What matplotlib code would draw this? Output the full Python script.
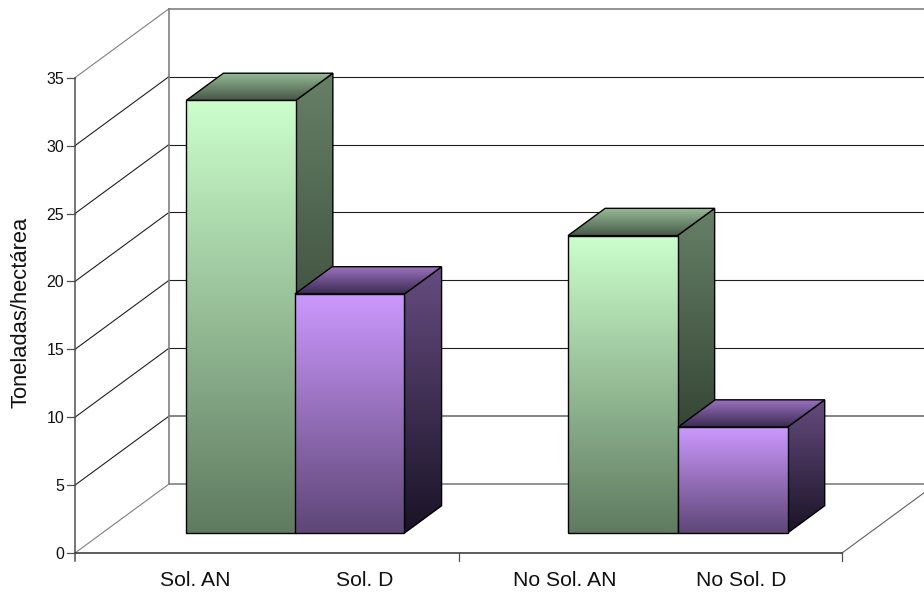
import matplotlib
matplotlib.use("Agg")
import matplotlib.pyplot as plt
import numpy as np
from matplotlib.colors import LinearSegmentedColormap
from matplotlib.patches import Polygon

OUT = "out.png"

# values in toneladas/hectarea
categories = ["Sol. AN", "Sol. D", "No Sol. AN", "No Sol. D"]
values = [31.85, 17.6, 21.9, 7.8]
label_x = [195, 365, 565, 741]
bar_slot = [0.219, 0.5025, 1.2145, 1.5015]
y_ticks = [0, 5, 10, 15, 20, 25, 30, 35]

# pseudo-3d layout, all in pixels
X0, Y0 = 75, 553
SLOT_W = 383.5
PX_PER_UNIT = 13.58
DEPTH_X, DEPTH_Y = 94, -69
BAR_W = 0.2855
BAR_D0, BAR_D1 = 0.29, 0.685

# front / side / top gradient ends
GREEN = {"front": ("#CCFFCC", "#5F7A60"), "side": ("#668066", "#1F2A1F"),
         "top": ("#99BD99", "#465846")}
PURPLE = {"front": ("#CC99FF", "#5E4676"), "side": ("#664C80", "#1A1326"),
          "top": ("#9E74C2", "#3A2A50")}
bar_styles = [GREEN, PURPLE, GREEN, PURPLE]


def project(slot, value, depth):
    """Map (category slot, value, depth 0..1) to pixel coordinates."""
    x = X0 + slot * SLOT_W + depth * DEPTH_X
    y = Y0 - value * PX_PER_UNIT + depth * DEPTH_Y
    return x, y


def gradient_face(ax, corners, colors, zorder):
    pts = np.array(corners)
    cmap = LinearSegmentedColormap.from_list("face", colors)
    grad = np.linspace(0, 1, 256).reshape(-1, 1)
    im = ax.imshow(grad, cmap=cmap, aspect="auto", zorder=zorder,
                   extent=[pts[:, 0].min(), pts[:, 0].max(),
                           pts[:, 1].max(), pts[:, 1].min()],
                   interpolation="bilinear")
    poly = Polygon(pts, closed=True, facecolor="none", edgecolor="black",
                   lw=1.0, joinstyle="miter", zorder=zorder + 0.1)
    ax.add_patch(poly)
    im.set_clip_path(poly)


def draw_bar(ax, slot, value, style, zorder):
    x0, x1 = slot, slot + BAR_W
    front = [project(x0, 0, BAR_D0), project(x1, 0, BAR_D0),
             project(x1, value, BAR_D0), project(x0, value, BAR_D0)]
    side = [project(x1, 0, BAR_D0), project(x1, 0, BAR_D1),
            project(x1, value, BAR_D1), project(x1, value, BAR_D0)]
    top = [project(x0, value, BAR_D0), project(x1, value, BAR_D0),
           project(x1, value, BAR_D1), project(x0, value, BAR_D1)]
    gradient_face(ax, side, style["side"], zorder)
    gradient_face(ax, top, style["top"], zorder + 1)
    gradient_face(ax, front, style["front"], zorder + 2)


plt.rcParams["font.family"] = ["Liberation Sans", "DejaVu Sans"]
fig = plt.figure(figsize=(9.24, 5.92), dpi=100)
ax = fig.add_axes([0, 0, 1, 1])

# walls and gridlines
back_x, _ = project(0, 0, 1)
for v in y_ticks:
    fx, fy = project(0, v, 0)
    bx, by = project(0, v, 1)
    edge = v in (0, 35)
    col = "#808080" if edge else "#202020"
    ax.plot([fx, bx], [fy, by], color=col, lw=0.8, zorder=1)
    ax.plot([bx, 930], [by, by], color=col if v != 5 else "#707070",
            lw=1.2 if edge or v == 5 else 0.8, zorder=1)
_, back_top = project(0, 35, 1)
_, back_bot = project(0, 0, 1)
ax.plot([back_x, back_x], [back_top, back_bot], color="#808080", lw=1.2, zorder=1)

# floor, right side
rx, ry = project(2, 0, 0)
ex, ey = project(2, 0, 1)
ax.plot([rx, ex], [ry, ey], color="#606060", lw=0.8, zorder=1)

for i, (slot, val) in enumerate(zip(bar_slot, values)):
    draw_bar(ax, slot, val, bar_styles[i], 3 + i * 3)

# front axes
ax.plot([X0, X0], [project(0, 35, 0)[1], Y0 + 8], color="#505050", lw=1.1, zorder=20)
ax.plot([X0, rx], [Y0, Y0], color="#303030", lw=1.1, zorder=20)
for k in (1, 2):
    tx = X0 + k * SLOT_W
    ax.plot([tx, tx], [Y0, Y0 + 8], color="#505050", lw=0.9, zorder=20)
for v in y_ticks:
    _, ty = project(0, v, 0)
    ax.plot([X0 - 8, X0], [ty, ty], color="#505050", lw=0.9, zorder=20)
    ax.text(X0 - 11, ty, str(v), ha="right", va="center_baseline",
            fontsize=11.5, color="#111111")

for name, lx in zip(categories, label_x):
    ax.text(lx, 580, name, ha="center", va="center", fontsize=15.2, color="#111111")
ax.text(21, 312, "Toneladas/hectárea", rotation=90, ha="center", va="center",
        fontsize=15.8, color="#111111")

ax.set_xlim(0, 924)
ax.set_ylim(592, 0)
ax.axis("off")
fig.savefig(OUT, dpi=100, facecolor="white")
plt.close(fig)
